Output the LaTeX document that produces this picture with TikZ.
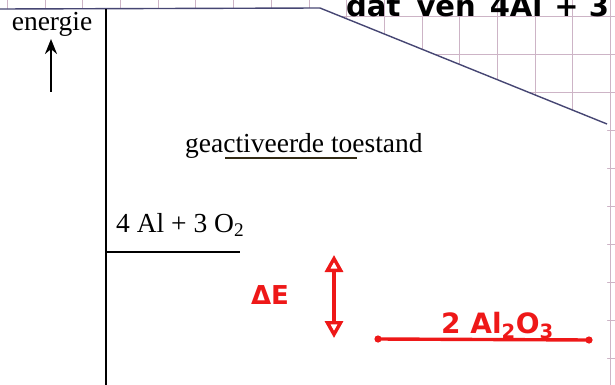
\documentclass[tikz,border=0pt]{standalone}
\usepackage{fontspec}
\setmainfont{Liberation Serif}
\newfontfamily\handfont{DejaVu Sans}
\usetikzlibrary{arrows.meta}
\definecolor{gridpink}{RGB}{205,180,198}
\definecolor{edgeblue}{RGB}{70,70,115}
\definecolor{marker}{RGB}{50,42,20}
\definecolor{pen}{RGB}{238,24,24}
\begin{document}
\begin{tikzpicture}[x=1pt,y=-1pt,
    typed/.style={font=\fontsize{27.5}{30}\selectfont,inner sep=0pt},
    hand/.style={font=\handfont\fontsize{28}{30}\selectfont,inner sep=0pt}]
   \useasboundingbox (0,0) rectangle (615,385);
   \clip (0,0) rectangle (615,385);
   % squared paper
   \foreach \x in {0,...,16}
     \draw[gridpink,line width=0.8pt] ({7.3+37.7*\x},0) -- ({7.3+37.7*\x},385);
   \foreach \y in {0,...,9}
     \draw[gridpink,line width=0.8pt] (0,{16+38*\y}) -- (615,{16+38*\y});
   % pasted sheet
   \fill[white] (0,9) -- (320,8) -- (607,124) -- (607,385) -- (0,385) -- cycle;
   \draw[edgeblue,line width=1.4pt] (0,9) -- (320,8) -- (607,124);
   \node[hand,anchor=base west,font=\handfont\bfseries\fontsize{29}{32}\selectfont] (note) at (346,17) {dat\hspace{6pt} ven\hspace{4pt} 4Al\hspace{2pt} + 3};
   % axis
   \coordinate (axtop) at (106,9);
   \coordinate (axbot) at (106,385);
   \draw[line width=2pt] (axtop) -- (axbot);
   \node[typed,anchor=base] (energie) at (52,31) {energie};
   \coordinate (upfoot) at (51,92);
   \coordinate (uptip) at (51,39);
   \draw[line width=2.4pt,-{Stealth[length=15pt,width=12pt]}] (upfoot) -- (uptip);
   % levels
   \node[typed,anchor=base west] (actief) at (185,152) {geactiveerde toestand};
   \coordinate (ulstart) at (225,158);
   \coordinate (ulend) at (357,158);
   \draw[marker,line width=2pt] (ulstart) -- (ulend);
   \node[typed,anchor=base west] (start) at (116,232) {4 Al + 3 O\textsubscript{2}};
   \coordinate (startend) at (240,252);
   \draw[line width=2pt] (axtop |- startend) -- (startend);
   % handwritten answer
   \node[hand,pen,font=\handfont\bfseries\fontsize{26}{28}\selectfont,anchor=base] (dE) at (270,304) {ΔE};
   \coordinate (dEtop) at (334,255);
   \coordinate (dEbot) at (334,338);
   \draw[pen,line width=3.4pt,{Triangle[open,length=17pt,width=18pt]}-{Triangle[open,length=17pt,width=18pt]}] (dEbot) -- (dEtop);
   \coordinate (endleft) at (378,339);
   \coordinate (endright) at (589,340);
   \draw[pen,line width=3.4pt] (endleft) -- (endright);
   \fill[pen] (endleft) circle (3.6) (endright) circle (3.6);
   \node[hand,pen,anchor=base west,font=\handfont\bfseries\fontsize{28}{30}\selectfont] (product) at (441,333) {2 Al\textsubscript{2}O\textsubscript{3}};
\end{tikzpicture}
\end{document}
